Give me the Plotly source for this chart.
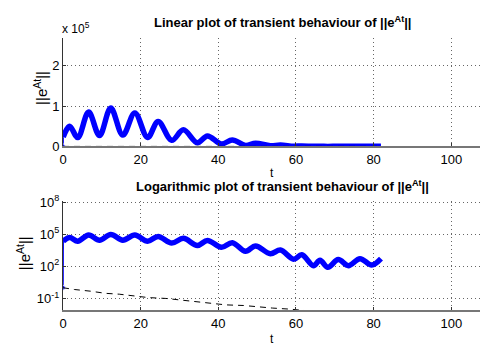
import plotly.graph_objects as go

# ---- data ----
# ||e^{At}||: value at t=0 and first sample after the jump
t_start = [0.0, 0.05]
norm_start = [1.0, 2.3e4]

# extrema of the oscillating norm curve
t_norm = [0.05, 1.7, 3.8, 6.6, 9.4, 12.3, 15.4, 18.5, 21.8, 24.5, 28.0, 31.0,
          34.6, 37.2, 40.8, 43.6, 47.0, 49.6, 53.4, 56.0, 59.4, 61.5, 64.5,
          66.2, 68.2, 70.9, 73.5, 76.5, 79.5, 81.9]
norm_vals = [2.3e4, 5.0e4, 2.2e4, 8.5e4, 2.7e4, 9.5e4, 2.8e4, 8.3e4, 2.2e4,
             6.2e4, 1.5e4, 4.1e4, 9.0e3, 2.6e4, 6.0e3, 1.6e4, 2.5e3, 8.0e3,
             1.5e3, 3.3e3, 460, 1.2e3, 115, 370, 83, 430, 115, 520, 130, 520]

# dashed reference curve
t_ref = [0, 3, 7, 11, 14.5, 18.5, 22, 26.5, 30, 34.5, 39.5, 42, 46.5, 50, 54,
         58.5, 65, 72, 82]
ref_vals = [1.0, 0.68, 0.48, 0.30, 0.25, 0.17, 0.12, 0.10, 0.071, 0.050, 0.032,
            0.025, 0.022, 0.016, 0.0126, 0.010, 0.006, 0.003, 0.0015]

x_ticks = [0, 20, 40, 60, 80, 100]
lin_ticks = [0, 1e5, 2e5]
lin_ticktext = ["0", "1", "2"]
log_ticks = [0.1, 1e2, 1e5, 1e8]
log_ticktext = ["10<sup>-1</sup>", "10<sup>2</sup>", "10<sup>5</sup>", "10<sup>8</sup>"]

W, H = 480, 352
FONT = "Liberation Sans, Arial, Helvetica, sans-serif"
BLUE = "#0000ff"


def px(x):
    return x / W


def py(y):
    return 1 - y / H


fig = go.Figure()

for xa, ya in (("x", "y"), ("x2", "y2")):
    fig.add_trace(go.Scatter(x=t_start, y=norm_start, mode="lines+markers",
                             line=dict(color=BLUE, width=1.5),
                             marker=dict(color=BLUE, size=[5, 0]),
                             xaxis=xa, yaxis=ya, showlegend=False))
    fig.add_trace(go.Scatter(x=t_norm, y=norm_vals, mode="lines",
                             line=dict(color=BLUE, width=5.5, shape="spline", smoothing=1.0),
                             xaxis=xa, yaxis=ya, showlegend=False))
    fig.add_trace(go.Scatter(x=t_ref, y=ref_vals, mode="lines",
                             line=dict(color="black", width=1, dash="6px,5px"),
                             xaxis=xa, yaxis=ya, showlegend=False))

x_dom = [px(59.5), 1.0]
axis_common = dict(showline=True, linecolor="#333", linewidth=1, mirror=False,
                   ticks="inside", ticklen=3, tickcolor="#333",
                   showgrid=True, gridcolor="#666", griddash="1px,3px", gridwidth=1,
                   zeroline=False, tickfont=dict(family=FONT, size=13, color="black"))

fig.update_layout(
    width=W, height=H, margin=dict(l=0, r=0, t=0, b=0),
    paper_bgcolor="white", plot_bgcolor="white",
    xaxis=dict(domain=x_dom, range=[0, 107.4], tickvals=x_ticks, anchor="y", **axis_common),
    yaxis=dict(domain=[py(145), py(31.7)], range=[0, 2.68e5], tickvals=lin_ticks,
               ticktext=lin_ticktext, anchor="x", **axis_common),
    xaxis2=dict(domain=x_dom, range=[0, 107.4], tickvals=x_ticks, anchor="y2", **axis_common),
    yaxis2=dict(domain=[py(316.5), py(202)], type="log", range=[-2.09, 8.12],
                tickvals=log_ticks, ticktext=log_ticktext, anchor="x2", **axis_common),
)
fig.update_xaxes(linecolor="#777", linewidth=2)

ann = []
ann.append(dict(text="<b>Linear plot of transient behaviour of ||e<sup>At</sup>||</b>",
                x=px(281), y=py(15), font=dict(size=13)))
ann.append(dict(text="<b>Logarithmic plot of transient behaviour of ||e<sup>At</sup>||</b>",
                x=px(281), y=py(186), font=dict(size=13)))
ann.append(dict(text="x 10<sup>5</sup>", x=px(73), y=py(21), font=dict(size=12)))
ann.append(dict(text="||e<sup>At</sup>||", x=px(36), y=py(84), textangle=-90, font=dict(size=15)))
ann.append(dict(text="||e<sup>At</sup>||", x=px(19), y=py(257), textangle=-90, font=dict(size=15)))
ann.append(dict(text="t", x=px(270), y=py(173), font=dict(size=12)))
ann.append(dict(text="t", x=px(270), y=py(347), font=dict(size=12)))
for a in ann:
    a.update(xref="paper", yref="paper", showarrow=False, xanchor="center", yanchor="middle")
    a["font"].update(family=FONT, color="black")
fig.update_layout(annotations=ann)

fig.write_html("out.html")
